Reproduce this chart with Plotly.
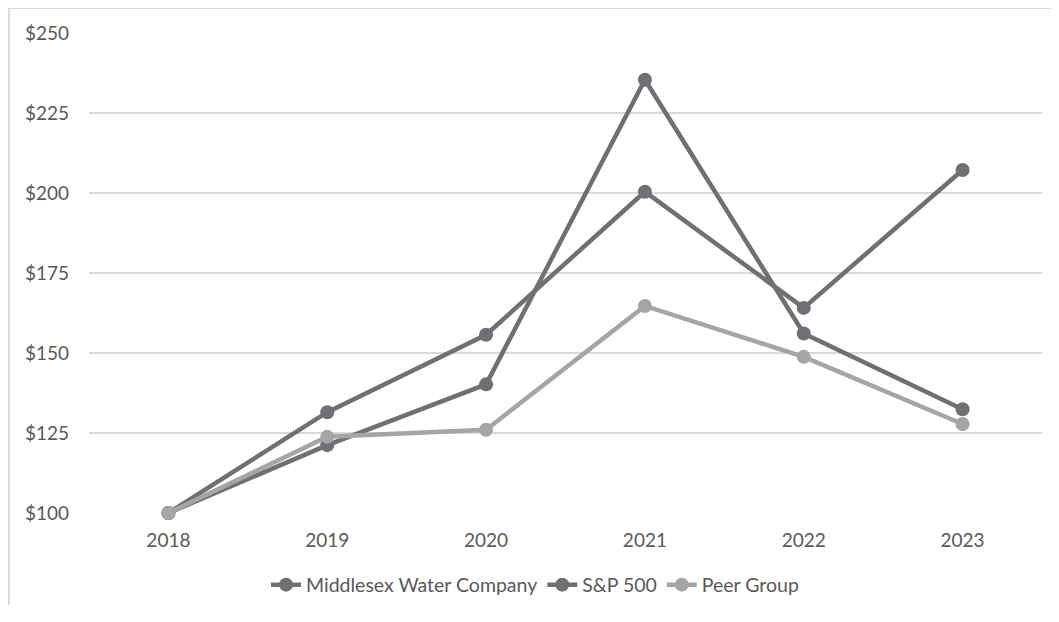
import plotly.graph_objects as go

years = ["2018", "2019", "2020", "2021", "2022", "2023"]
middlesex = [100, 121.2, 140.2, 235.4, 156.1, 132.4]
sp500 = [100, 131.5, 155.7, 200.4, 164.1, 207.2]
peer = [100, 123.8, 126.0, 164.7, 148.8, 127.8]

dark = "#707074"
light = "#a5a5a8"
font_fam = "Lato, 'Noto Sans', sans-serif"

fig = go.Figure()
for name, vals, col in [("Middlesex Water Company", middlesex, dark),
                        ("S&P 500", sp500, dark),
                        ("Peer Group", peer, light)]:
    fig.add_trace(go.Scatter(x=years, y=vals, name=name, mode="lines+markers",
                             line=dict(color=col, width=4.5),
                             marker=dict(color=col, size=14),
                             cliponaxis=False))

# page body has an 8px margin, so the figure is drawn at (8, 8)
W, H = 1051, 614
L, R, T, B = 81, 17, 25, 109
pw, ph = W - L - R, H - T - B

def px_x(x):
    return (x - L) / pw

def px_y(y):
    return (H - B - y) / ph

fig.update_layout(
    width=W, height=H,
    margin=dict(l=L, r=R, t=T, b=B, autoexpand=False),
    paper_bgcolor="white", plot_bgcolor="white",
    font=dict(family=font_fam, size=19, color="#595959"),
    showlegend=True,
    legend=dict(orientation="h", x=px_x(527), xanchor="center", y=px_y(577), yanchor="middle",
                font=dict(family=font_fam, size=19.5, color="#595959"), tracegroupgap=0),
    xaxis=dict(type="category", range=[-0.5, 5.5], showgrid=False, zeroline=False, showline=False,
               ticks="", ticklabelstandoff=14, tickfont=dict(size=19, color="#595959")),
    yaxis=dict(range=[100, 250], dtick=25, tickprefix="$", showgrid=True,
               gridcolor="#d9d9d9", gridwidth=1.5, zeroline=False, showline=False,
               ticks="", ticklabelstandoff=19, tickfont=dict(size=19, color="#595959")),
    shapes=[
        dict(type="line", xref="paper", yref="paper", x0=px_x(1), x1=px_x(1),
             y0=px_y(0), y1=px_y(597), line=dict(color="#d0d0d0", width=1.5)),
        dict(type="line", xref="paper", yref="paper", x0=px_x(1), x1=px_x(W),
             y0=px_y(0), y1=px_y(0), line=dict(color="#d0d0d0", width=1.5)),
    ],
)

fig.write_html("out.html")
